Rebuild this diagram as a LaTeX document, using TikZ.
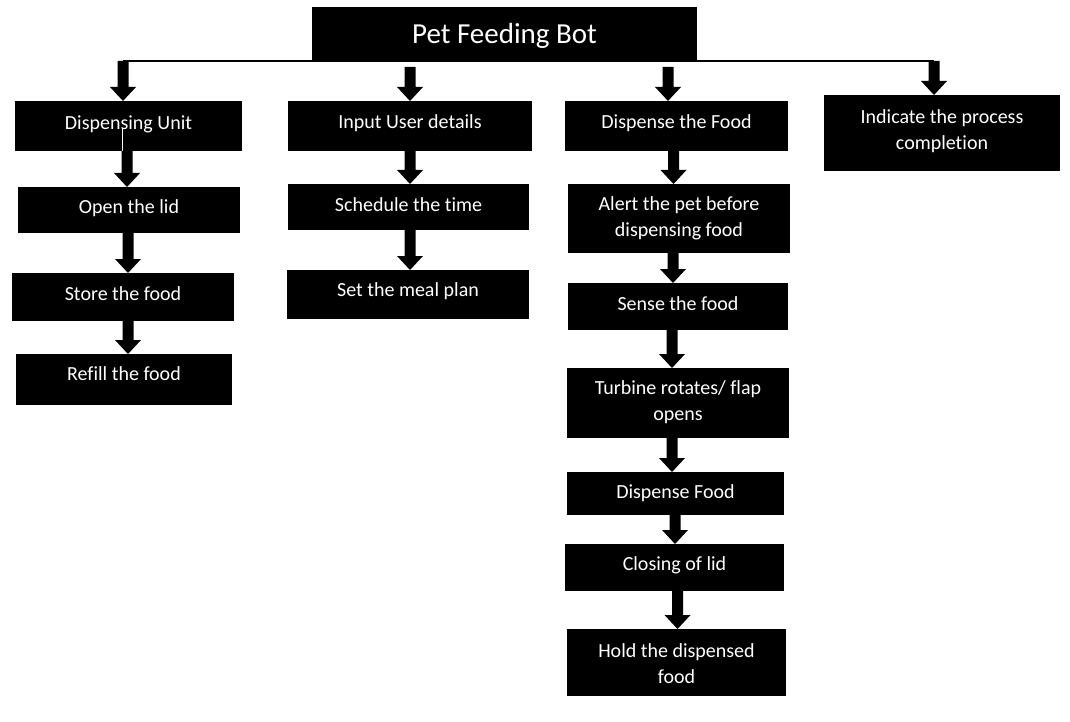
\documentclass[tikz,border=0pt]{standalone}
\usepackage{fontspec}
\setmainfont{Carlito}[Ligatures=NoCommon]
\usetikzlibrary{calc}

% black box with its white label; corners given as x1,y1,x2,y2 (y grows downwards)
\newcommand\flowbox[7]{%
  \node[boxst, minimum width={#4-#2}, minimum height={#5-#3}] (#1) at ({(#2+#4)/2},{(#3+#5)/2}) {};
  \node[txt] (#1-t) at ([yshift=#6]#1.center) {#7};
}

% solid block arrow pointing down: [x offset] start point, target anchor
\newcommand\barrow[3][0]{%
  \path ([xshift=#1]#2) coordinate (bA) ([xshift=#1]#2 |- #3) coordinate (bB);
  \fill[black] ($(bA)+(-5.5,0)$) -- ($(bB)+(-5.5,-14)$) -- ($(bB)+(-13,-14)$) -- (bB)
    -- ($(bB)+(13,-14)$) -- ($(bB)+(5.5,-14)$) -- ($(bA)+(5.5,0)$) -- cycle;
}

\begin{document}
\begin{tikzpicture}[x=1pt,y=-1pt,
  boxst/.style={fill=black, draw=none, inner sep=0pt, outer sep=0pt},
  txt/.style={text=white, align=center, inner sep=0pt, font=\fontsize{20}{26}\selectfont},
  titletxt/.style={text=white, inner sep=0pt, font=\fontsize{29}{32}\selectfont},
  bus/.style={line width=2.5pt},
]
\useasboundingbox (0,0) rectangle (1070,722);

% title
\node[boxst, minimum width=385, minimum height=55] (title) at (504.5,34.5) {};
\node[titletxt] (title-t) at (504.5,36) {Pet Feeding Bot};

% first level
\flowbox{du}{15}{101}{242}{151}{2}{Dispensing Unit}
\flowbox{iu}{288}{101}{532}{151}{2.5}{Input User details}
\flowbox{df}{565}{101}{788}{151}{2.5}{Dispense the Food}
\flowbox{ind}{824}{95}{1060}{171}{2}{Indicate the process\\completion}

% dispensing unit branch
\flowbox{open}{18}{187}{240}{233}{1.5}{Open the lid}
\flowbox{store}{12}{273}{234}{321}{3.5}{Store the food}
\flowbox{refill}{16}{354}{232}{405}{5.5}{Refill the food}

% user input branch
\flowbox{sched}{288}{184}{529}{230}{2.5}{Schedule the time}
\flowbox{meal}{287}{270}{529}{319}{3}{Set the meal plan}

% dispensing branch
\flowbox{alert}{568}{184}{790}{253}{0}{Alert the pet before\\dispensing food}
\flowbox{sense}{568}{283}{788}{330}{3}{Sense the food}
\flowbox{turb}{567}{368}{789}{438}{1}{Turbine rotates/ flap\\opens}
\flowbox{dfood}{567}{472}{784}{515}{0}{Dispense Food}
\flowbox{close}{565}{544}{784}{591}{2}{Closing of lid}
\flowbox{hold}{567}{629}{786}{696}{-1}{Hold the dispensed\\food}

% distribution line under the title
\coordinate (busL) at (123,61);
\coordinate (busR) at (934,61);
\coordinate (b2) at (410,67);
\coordinate (b3) at (668,67);
\draw[bus] (busR) -- (busL);

\barrow{busL}{du.north}
\barrow{b2}{iu.north}
\barrow{b3}{df.north}
\barrow{busR}{ind.north}

% thin line running through the first box
\draw[white, line width=0.8pt] ([xshift=-6.5]du.south) -- ++(0,-23);

\barrow[-1.5]{du.south}{open.north}
\barrow[-1]{open.south}{store.north}
\barrow[5]{store.south}{refill.north}

\barrow[0]{iu.south}{sched.north}
\barrow[1.5]{sched.south}{meal.north}

\barrow[-3]{df.south}{alert.north}
\barrow[-6]{alert.south}{sense.north}
\barrow[-6]{sense.south}{turb.north}
\barrow[-6]{turb.south}{dfood.north}
\barrow[-0.5]{dfood.south}{close.north}
\barrow[3]{close.south}{hold.north}
\end{tikzpicture}
\end{document}
